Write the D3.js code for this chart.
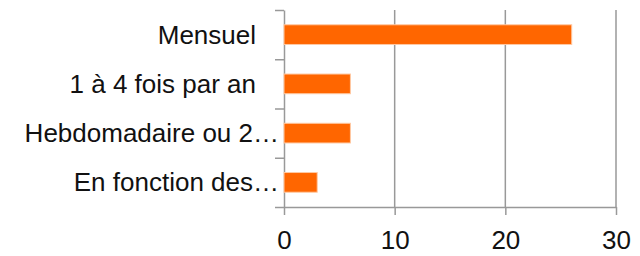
<!DOCTYPE html>
<html lang="fr">
  <head>
    <meta charset="UTF-8" />
    <title>Fréquence</title>
    <style>
      body { margin: 0; background: #fff; }
      svg text { font-family: "Liberation Sans", Arial, Helvetica, sans-serif; fill: #111; }
    </style>
  </head>
  <body>
    <div id="wrapper"></div>
    <script src="https://d3js.org/d3.v7.min.js"></script>
    <script>
      // données
      const categories = ["Mensuel", "1 à 4 fois par an", "Hebdomadaire ou 2…", "En fonction des…"];
      const values = [26, 6, 6, 3];
      const xTicks = [0, 10, 20, 30];

      const width = 640, height = 256;
      const plot = {left: 284, right: 616, top: 10, bottom: 207};

      const svg = d3.select("#wrapper")
        .append("svg")
          .attr("width", width)
          .attr("height", height);

      const x = d3.scaleLinear()
        .domain([0, 30])
        .range([plot.left, plot.right]);

      const y = d3.scaleBand()
        .domain(categories)
        .range([plot.top, plot.bottom])
        .paddingInner(0.6)
        .paddingOuter(0.3);

      // grille verticale
      svg.append("g")
        .selectAll("line")
        .data(xTicks.slice(1))
        .join("line")
          .attr("x1", d => x(d)).attr("x2", d => x(d))
          .attr("y1", plot.top).attr("y2", plot.bottom)
          .attr("stroke", "#999")
          .attr("stroke-width", 1.5);

      // axe du bas
      const xAxis = svg.append("g")
        .attr("transform", `translate(0,${plot.bottom})`)
        .call(d3.axisBottom(x).tickValues(xTicks).tickSize(8).tickSizeOuter(0).tickPadding(16));
      xAxis.select(".domain").attr("stroke", "#999").attr("stroke-width", 1.5);
      xAxis.selectAll(".tick line").attr("stroke", "#999").attr("stroke-width", 1.5);
      xAxis.selectAll("text").attr("font-size", 26).attr("fill", "#111");

      // axe de gauche : graduations entre les catégories
      const yEdges = d3.scaleLinear().domain([0, categories.length]).range([plot.top, plot.bottom]);
      const yAxis = svg.append("g")
        .attr("transform", `translate(${plot.left},0)`)
        .call(d3.axisLeft(yEdges).ticks(categories.length).tickFormat("").tickSize(9).tickSizeOuter(0));
      yAxis.select(".domain").attr("stroke", "#999").attr("stroke-width", 1.5);
      yAxis.selectAll(".tick line").attr("stroke", "#999").attr("stroke-width", 1.5);

      // libellés
      svg.append("g")
        .selectAll("text")
        .data(categories)
        .join("text")
          .attr("x", d => d.endsWith("…") ? plot.left - 5 : plot.left - 28)
          .attr("y", d => y(d) + y.bandwidth() / 2)
          .attr("dy", "0.35em")
          .attr("text-anchor", "end")
          .attr("font-size", 26)
          .text(d => d);

      // barres
      svg.append("g")
        .selectAll("rect")
        .data(values)
        .join("rect")
          .attr("x", x(0))
          .attr("y", (d, i) => y(categories[i]))
          .attr("width", d => x(d) - x(0))
          .attr("height", y.bandwidth())
          .attr("fill", "#ff6600")
          .attr("stroke", "#ffc9a3")
          .attr("stroke-width", 1);
    </script>
  </body>
</html>
